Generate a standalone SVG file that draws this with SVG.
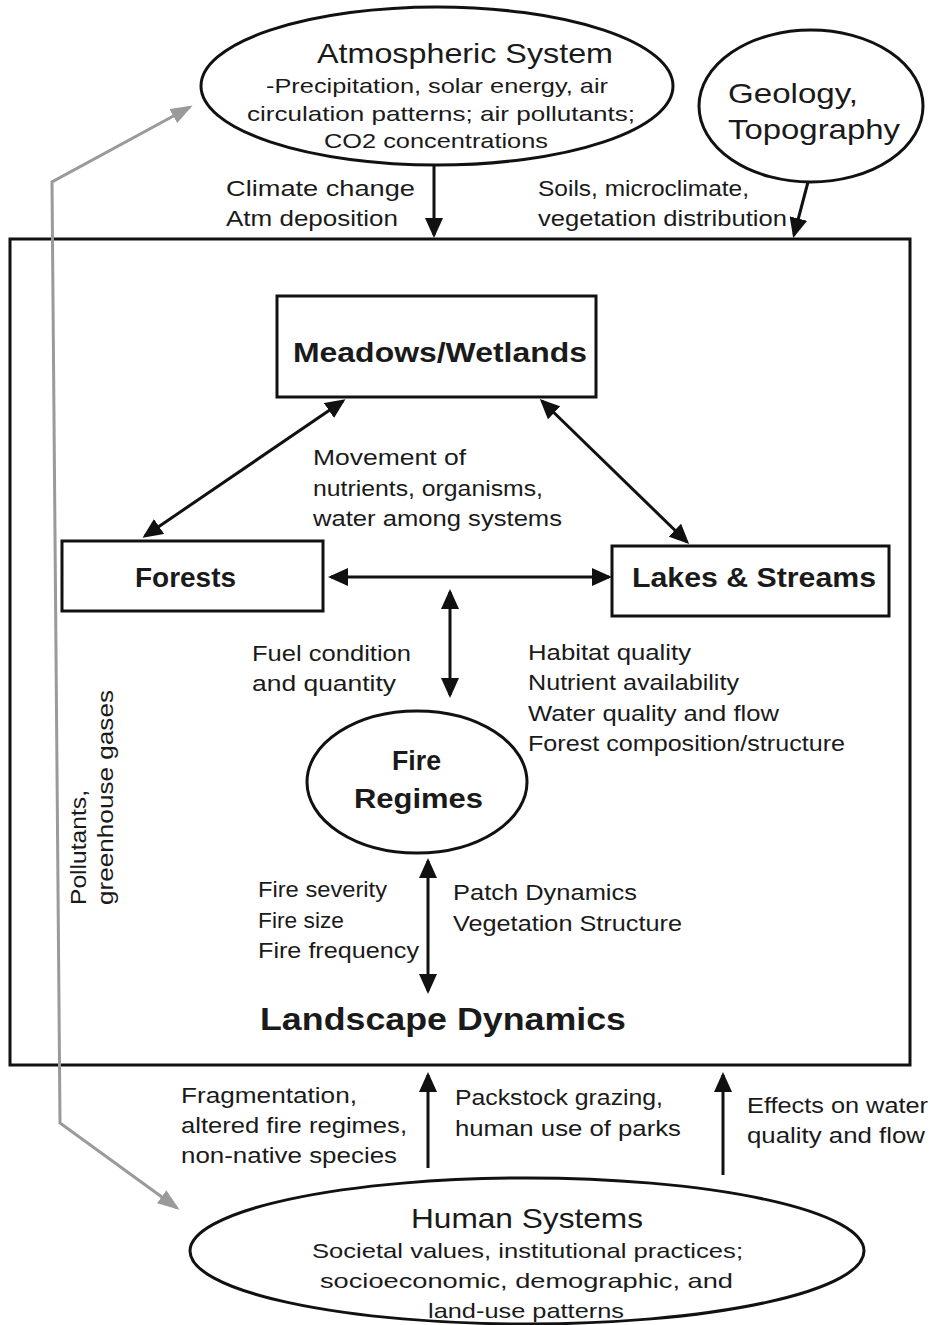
<svg xmlns="http://www.w3.org/2000/svg" width="930" height="1325" viewBox="0 0 930 1325">
  <style>
    text { font-family: "Liberation Sans", Arial, sans-serif; fill: #1a1a1a; }
    .t { font-size: 22px; }
    .big { font-size: 28px; }
    .sub { font-size: 21px; }
    .b { font-weight: bold; font-size: 27px; }
    .shape { fill: #fff; stroke: #111; stroke-width: 3; }
    .con { fill: none; stroke: #111; stroke-width: 3; }
    .gray { fill: none; stroke: #9a9a9a; stroke-width: 3; }
  </style>
  <defs>
    <marker id="ah" viewBox="0 0 20 18" refX="17" refY="9" markerWidth="20" markerHeight="18" markerUnits="userSpaceOnUse" orient="auto-start-reverse">
      <path d="M0,0 L20,9 L0,18 z" fill="#111"/>
    </marker>
    <marker id="ahg" viewBox="0 0 22 16" refX="19" refY="8" markerWidth="22" markerHeight="16" markerUnits="userSpaceOnUse" orient="auto-start-reverse">
      <path d="M0,0 L22,8 L0,16 z" fill="#9a9a9a"/>
    </marker>
  </defs>

  <rect width="930" height="1325" fill="#fff"/>

  <!-- outer system boundary -->
  <g id="landscape">
    <rect class="shape" x="10" y="239" width="900" height="826" fill="none"/>
    <text class="b" x="260" y="1030" style="font-size:31px" textLength="366" lengthAdjust="spacingAndGlyphs">Landscape Dynamics</text>
  </g>

  <g id="atmospheric">
    <ellipse class="shape" cx="437" cy="86" rx="236" ry="79"/>
    <text class="big" x="317" y="63" textLength="296" lengthAdjust="spacingAndGlyphs">Atmospheric System</text>
    <text class="sub" x="266" y="93" textLength="342" lengthAdjust="spacingAndGlyphs">-Precipitation, solar energy, air</text>
    <text class="sub" x="247" y="121" textLength="388" lengthAdjust="spacingAndGlyphs">circulation patterns; air pollutants;</text>
    <text class="sub" x="324" y="148" textLength="224" lengthAdjust="spacingAndGlyphs">CO2 concentrations</text>
  </g>

  <g id="geology">
    <ellipse class="shape" cx="811" cy="106" rx="112" ry="76"/>
    <text class="big" x="728" y="103" textLength="130" lengthAdjust="spacingAndGlyphs">Geology,</text>
    <text class="big" x="728" y="139" textLength="172" lengthAdjust="spacingAndGlyphs">Topography</text>
  </g>

  <g id="meadows">
    <rect class="shape" x="277" y="296" width="319" height="101"/>
    <text class="b" x="293" y="362" textLength="294" lengthAdjust="spacingAndGlyphs">Meadows/Wetlands</text>
  </g>

  <g id="forests">
    <rect class="shape" x="62" y="541" width="261" height="70"/>
    <text class="b" x="135" y="587" textLength="101" lengthAdjust="spacingAndGlyphs">Forests</text>
  </g>

  <g id="lakes">
    <rect class="shape" x="612" y="546" width="277" height="70"/>
    <text class="b" x="632" y="587" textLength="244" lengthAdjust="spacingAndGlyphs">Lakes &amp; Streams</text>
  </g>

  <g id="fire">
    <ellipse class="shape" cx="417" cy="782" rx="110" ry="71"/>
    <text class="b" x="392" y="770" textLength="49" lengthAdjust="spacingAndGlyphs">Fire</text>
    <text class="b" x="354" y="808" textLength="129" lengthAdjust="spacingAndGlyphs">Regimes</text>
  </g>

  <g id="human">
    <ellipse class="shape" cx="527" cy="1251" rx="337" ry="73"/>
    <text class="big" x="411" y="1228" textLength="232" lengthAdjust="spacingAndGlyphs">Human Systems</text>
    <text class="sub" x="312" y="1258" textLength="431" lengthAdjust="spacingAndGlyphs">Societal values, institutional practices;</text>
    <text class="sub" x="320" y="1288" textLength="413" lengthAdjust="spacingAndGlyphs">socioeconomic, demographic, and</text>
    <text class="sub" x="428" y="1318" textLength="196" lengthAdjust="spacingAndGlyphs">land-use patterns</text>
  </g>

  <!-- connectors -->
  <g id="connectors">
    <path class="con" d="M434,165 L434,235" marker-end="url(#ah)"/>
    <path class="con" d="M808,182 L794,235" marker-end="url(#ah)"/>
    <path class="con" d="M343,401 L145,536" marker-start="url(#ah)" marker-end="url(#ah)"/>
    <path class="con" d="M542,401 L687,542" marker-start="url(#ah)" marker-end="url(#ah)"/>
    <path class="con" d="M331,577 L609,577" marker-start="url(#ah)" marker-end="url(#ah)"/>
    <path class="con" d="M450,592 L450,695" marker-start="url(#ah)" marker-end="url(#ah)"/>
    <path class="con" d="M428,861 L428,991" marker-start="url(#ah)" marker-end="url(#ah)"/>
    <path class="con" d="M428,1168 L428,1075" marker-end="url(#ah)"/>
    <path class="con" d="M723,1175 L723,1075" marker-end="url(#ah)"/>
    <path class="gray" d="M177,1208 L60,1123 L52,182 L190,107" marker-start="url(#ahg)" marker-end="url(#ahg)"/>
  </g>

  <!-- connector labels -->
  <g id="labels">
    <text class="t" x="226" y="196" textLength="189" lengthAdjust="spacingAndGlyphs">Climate change</text>
    <text class="t" x="226" y="226" textLength="172" lengthAdjust="spacingAndGlyphs">Atm deposition</text>
    <text class="t" x="538" y="196" textLength="211" lengthAdjust="spacingAndGlyphs">Soils, microclimate,</text>
    <text class="t" x="538" y="226" textLength="249" lengthAdjust="spacingAndGlyphs">vegetation distribution</text>

    <text class="t" x="313" y="465" textLength="153" lengthAdjust="spacingAndGlyphs">Movement of</text>
    <text class="t" x="313" y="496" textLength="230" lengthAdjust="spacingAndGlyphs">nutrients, organisms,</text>
    <text class="t" x="313" y="526" textLength="249" lengthAdjust="spacingAndGlyphs">water among systems</text>

    <text class="t" x="252" y="661" textLength="159" lengthAdjust="spacingAndGlyphs">Fuel condition</text>
    <text class="t" x="252" y="691" textLength="144" lengthAdjust="spacingAndGlyphs">and quantity</text>

    <text class="t" x="528" y="660" textLength="163" lengthAdjust="spacingAndGlyphs">Habitat quality</text>
    <text class="t" x="528" y="690" textLength="211" lengthAdjust="spacingAndGlyphs">Nutrient availability</text>
    <text class="t" x="528" y="721" textLength="251" lengthAdjust="spacingAndGlyphs">Water quality and flow</text>
    <text class="t" x="528" y="751" textLength="317" lengthAdjust="spacingAndGlyphs">Forest composition/structure</text>

    <text class="t" x="258" y="897" textLength="129" lengthAdjust="spacingAndGlyphs">Fire severity</text>
    <text class="t" x="258" y="928" textLength="86" lengthAdjust="spacingAndGlyphs">Fire size</text>
    <text class="t" x="258" y="958" textLength="161" lengthAdjust="spacingAndGlyphs">Fire frequency</text>

    <text class="t" x="453" y="900" textLength="184" lengthAdjust="spacingAndGlyphs">Patch Dynamics</text>
    <text class="t" x="453" y="931" textLength="229" lengthAdjust="spacingAndGlyphs">Vegetation Structure</text>

    <text class="t" transform="translate(86,905) rotate(-90)" textLength="115" lengthAdjust="spacingAndGlyphs">Pollutants,</text>
    <text class="t" transform="translate(113,905) rotate(-90)" textLength="215" lengthAdjust="spacingAndGlyphs">greenhouse gases</text>

    <text class="t" x="181" y="1103" textLength="176" lengthAdjust="spacingAndGlyphs">Fragmentation,</text>
    <text class="t" x="181" y="1133" textLength="226" lengthAdjust="spacingAndGlyphs">altered fire regimes,</text>
    <text class="t" x="181" y="1163" textLength="216" lengthAdjust="spacingAndGlyphs">non-native species</text>

    <text class="t" x="455" y="1105" textLength="208" lengthAdjust="spacingAndGlyphs">Packstock grazing,</text>
    <text class="t" x="455" y="1136" textLength="226" lengthAdjust="spacingAndGlyphs">human use of parks</text>

    <text class="t" x="747" y="1113" textLength="181" lengthAdjust="spacingAndGlyphs">Effects on water</text>
    <text class="t" x="747" y="1143" textLength="178" lengthAdjust="spacingAndGlyphs">quality and flow</text>
  </g>
</svg>
